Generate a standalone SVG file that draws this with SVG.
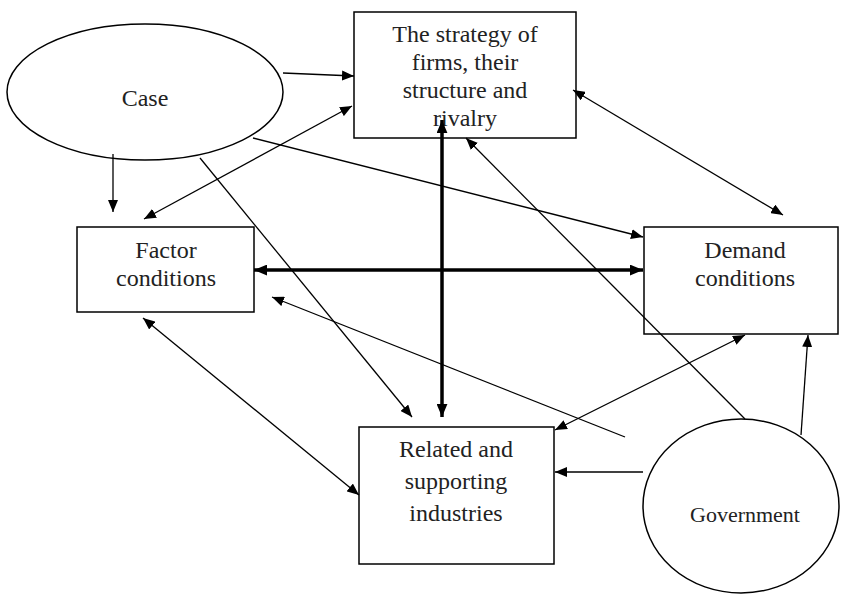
<svg xmlns="http://www.w3.org/2000/svg" width="841" height="594" viewBox="0 0 841 594">
<style>
.box{fill:#fff;stroke:#000;stroke-width:1.5}
.t{font-family:"Liberation Serif","Times New Roman",serif;font-size:24px;fill:#222;text-anchor:middle}
.c{stroke:#000;stroke-width:1.3;fill:none}
.k{stroke:#000;stroke-width:3.5;fill:none}
</style>
<defs>
<marker id="a" viewBox="0 0 12 10" refX="12" refY="5" markerWidth="12" markerHeight="10" markerUnits="userSpaceOnUse" orient="auto-start-reverse"><path d="M0,0 L12,5 L0,10 z" fill="#000"/></marker>
<marker id="b" viewBox="0 0 12 10" refX="12" refY="5" markerWidth="13" markerHeight="11" markerUnits="userSpaceOnUse" orient="auto-start-reverse"><path d="M0,0 L12,5 L0,10 z" fill="#000"/></marker>
</defs>
<rect width="841" height="594" fill="#fff"/>
<g id="case"><ellipse cx="145" cy="92" rx="138" ry="68" class="box"/><text x="145" y="106" class="t">Case</text></g>
<g id="strategy"><rect x="354" y="12" width="222" height="126" class="box"/>
<text class="t"><tspan x="465" y="42">The strategy of</tspan><tspan x="465" y="70">firms, their</tspan><tspan x="465" y="98">structure and</tspan><tspan x="465" y="126">rivalry</tspan></text></g>
<g id="factor"><rect x="77" y="227" width="177" height="85" class="box"/>
<text class="t"><tspan x="166" y="258">Factor</tspan><tspan x="166" y="286">conditions</tspan></text></g>
<g id="demand"><rect x="644" y="227" width="194" height="107" class="box"/>
<text class="t"><tspan x="745" y="258">Demand</tspan><tspan x="745" y="286">conditions</tspan></text></g>
<g id="related"><rect x="359" y="427" width="195" height="137" class="box"/>
<text class="t"><tspan x="456" y="457">Related and</tspan><tspan x="456" y="489">supporting</tspan><tspan x="456" y="521">industries</tspan></text></g>
<g id="government"><ellipse cx="741" cy="506" rx="98" ry="87" class="box"/><text x="745" y="522" class="t" style="font-size:22px">Government</text></g>
<g id="connectors">
<line x1="283" y1="73" x2="354" y2="76" class="c" marker-end="url(#a)"/>
<line x1="113" y1="154" x2="113" y2="212" class="c" marker-end="url(#a)"/>
<line x1="144" y1="219" x2="352" y2="106" class="c" marker-start="url(#a)" marker-end="url(#a)"/>
<line x1="253" y1="138" x2="643" y2="237" class="c" marker-end="url(#a)"/>
<line x1="200" y1="158" x2="412" y2="417" class="c" marker-end="url(#a)"/>
<line x1="254" y1="270" x2="643" y2="270" class="k" marker-start="url(#b)" marker-end="url(#b)"/>
<line x1="442" y1="120" x2="442" y2="417" class="k" marker-start="url(#b)" marker-end="url(#b)"/>
<line x1="573" y1="90" x2="783" y2="215" class="c" marker-start="url(#a)" marker-end="url(#a)"/>
<line x1="745" y1="419" x2="466" y2="138" class="c" marker-end="url(#a)"/>
<line x1="625" y1="437" x2="272" y2="297" class="c" marker-end="url(#a)"/>
<line x1="555" y1="430" x2="745" y2="335" class="c" marker-start="url(#a)" marker-end="url(#a)"/>
<line x1="643" y1="472" x2="555" y2="472" class="c" marker-end="url(#a)"/>
<line x1="801" y1="435" x2="808" y2="335" class="c" marker-end="url(#a)"/>
<line x1="143" y1="318" x2="359" y2="495" class="c" marker-start="url(#a)" marker-end="url(#a)"/>
</g>
</svg>
